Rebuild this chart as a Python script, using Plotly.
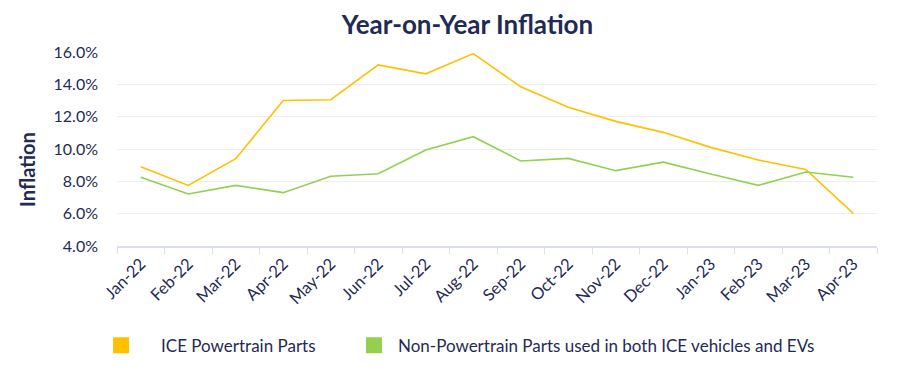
import plotly.graph_objects as go

months = ["Jan-22", "Feb-22", "Mar-22", "Apr-22", "May-22", "Jun-22", "Jul-22", "Aug-22",
          "Sep-22", "Oct-22", "Nov-22", "Dec-22", "Jan-23", "Feb-23", "Mar-23", "Apr-23"]
ice_powertrain = [0.089, 0.0775, 0.094, 0.130, 0.1305, 0.152, 0.1465, 0.159,
                  0.1385, 0.1258, 0.1171, 0.1103, 0.101, 0.0932, 0.0874, 0.0602]
non_powertrain = [0.0825, 0.0722, 0.0775, 0.073, 0.0831, 0.0847, 0.0994, 0.1076,
                  0.0926, 0.0942, 0.0866, 0.0919, 0.0845, 0.0775, 0.0858, 0.0825]
series_names = ["ICE Powertrain Parts", "Non-Powertrain Parts used in both ICE vehicles and EVs"]
colors = ["#FFC000", "#92D050"]
y_ticks = [0.04, 0.06, 0.08, 0.10, 0.12, 0.14, 0.16]

navy = "#1F2A55"
font_family = "Lato, 'Open Sans', sans-serif"
W, H = 895, 368  # page body has an 8px margin

fig = go.Figure()
for i, (vals, name, col) in enumerate(zip([ice_powertrain, non_powertrain], series_names, colors)):
    fig.add_trace(go.Scatter(x=months, y=vals, mode="lines", name=name,
                             line=dict(color=col, width=1.6), showlegend=False))
    fig.add_trace(go.Scatter(x=[None], y=[None], mode="markers", name=name,
                             marker=dict(symbol="square", size=16, color=col),
                             legend="legend" if i == 0 else "legend2",
                             showlegend=True))

legend_common = dict(orientation="h", xref="container", yref="container",
                     xanchor="left", yanchor="middle", y=0.0823,
                     font=dict(size=17, color=navy, family=font_family),
                     bgcolor="rgba(0,0,0,0)")

fig.update_layout(
    width=W, height=H,
    margin=dict(l=109, r=26, t=44, b=130),
    paper_bgcolor="white", plot_bgcolor="white",
    font=dict(family=font_family, color=navy, size=15),
    title=dict(text="<b>Year-on-Year Inflation</b>", x=0.5134, xanchor="center",
               y=0.9538, yanchor="middle", font=dict(size=26, color=navy, family=font_family)),
    legend=dict(x=0.0816, itemwidth=70, **legend_common),
    legend2=dict(x=0.3821, itemwidth=38, **legend_common),
)
fig.add_annotation(text="<b>Inflation</b>", textangle=-90, xref="paper", yref="paper",
                   x=-0.1184, y=0.392, xanchor="center", yanchor="middle", showarrow=False,
                   font=dict(size=20, color=navy, family=font_family))
fig.update_yaxes(range=[0.04, 0.16], tickvals=y_ticks, tickformat=".1%",
                 showgrid=True, gridcolor="#EEEEEE", gridwidth=1, zeroline=False,
                 showline=False, ticks="", ticklabelstandoff=18, automargin=False,
                 tickfont=dict(size=16, color=navy))
fig.update_xaxes(type="category", tickangle=-45, tickson="boundaries",
                 ticks="outside", ticklen=6, tickcolor="#DCE0EE", automargin=False,
                 showline=True, linecolor="#DCE0EE", linewidth=1.5,
                 showgrid=False, tickfont=dict(size=16.5, color=navy),
                 range=[-0.5, 15.5])

fig.write_html("out.html")
